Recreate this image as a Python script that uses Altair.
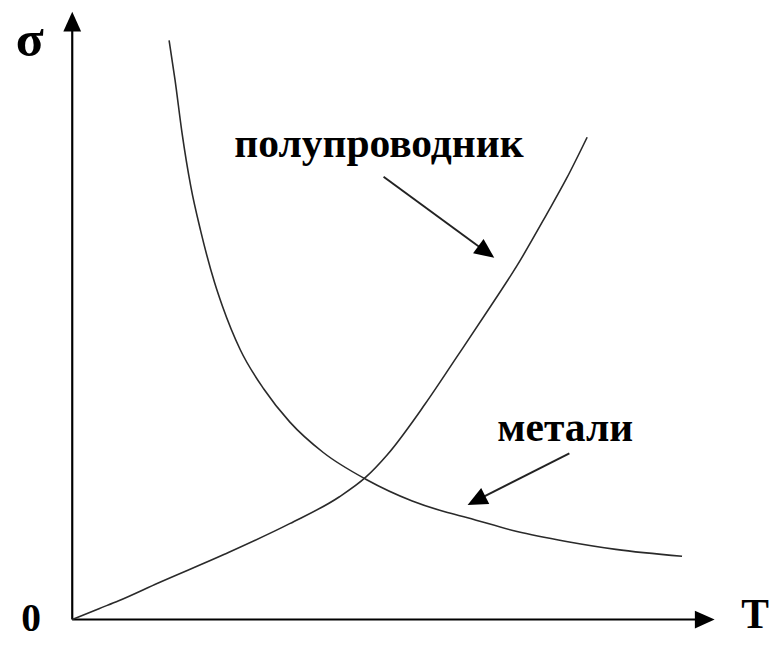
import math
import altair as alt
import pandas as pd

# Metal curve (conductivity decreasing with temperature), arbitrary units
metal_T = [98, 104, 111, 120, 130, 144, 152, 170, 194, 220, 254, 297, 344, 377, 400, 450, 500, 550, 617]
metal_s = [586, 546, 493, 438, 393, 341, 317, 273, 233, 200, 169, 142, 120, 109, 103, 89, 79, 71, 64]

# Semiconductor curve (conductivity increasing with temperature)
semi_T = [0, 27, 47, 87, 154, 220, 270, 297, 319, 357, 390, 424, 450, 480, 500, 521]
semi_s = [0, 11, 19, 37, 66, 97, 124, 144, 167, 218, 267, 318, 358, 410, 446, 488]

# Curve labels and their pointer arrows
labels = ["полупроводник", "метали"]
label_T = [164, 430]
label_s = [468, 181]
pointer_from_T = [315, 503]
pointer_from_s = [448, 168]
pointer_to_T = [427, 400]
pointer_to_s = [366, 116]

# Axis extents
axis_T_end = 650
axis_s_end = 615

W, H = 770, 629
xs = alt.Scale(domain=[-65, W - 65], nice=False, zero=False)
ys = alt.Scale(domain=[615 - H, 615], nice=False, zero=False)
X = lambda f: alt.X(f, type="quantitative", scale=xs, axis=None)
Y = lambda f: alt.Y(f, type="quantitative", scale=ys, axis=None)

rows = []
for i, (t, s) in enumerate(zip(metal_T, metal_s)):
    rows.append({"series": "metal", "T": t, "s": s, "i": i})
for i, (t, s) in enumerate(zip(semi_T, semi_s)):
    rows.append({"series": "semi", "T": t, "s": s, "i": i})
curves_df = pd.DataFrame(rows)

curves = alt.Chart(curves_df).mark_line(color="#2a2a2a", strokeWidth=1.6, interpolate="monotone").encode(
    x=X("T"), y=Y("s"), detail="series:N", order="i:Q"
)

HEAD = 10  # half-length of arrow head


def head(tx, ts, fx, fs):
    dx, dy = tx - fx, ts - fs
    L = math.hypot(dx, dy)
    ux, uy = dx / L, dy / L
    ang = math.degrees(math.atan2(-dy, dx)) % 360
    return {"T": tx - HEAD * ux, "s": ts - HEAD * uy, "ang": ang}


# axes as arrows: from origin to tip
ax_lines = pd.DataFrame([
    {"T": 0, "s": 0, "T2": 0, "s2": axis_s_end - 2 * HEAD + 2},
    {"T": 0, "s": 0, "T2": axis_T_end - 2 * HEAD + 2, "s2": 0},
])
axes = alt.Chart(ax_lines).mark_rule(color="black", strokeWidth=2.2).encode(
    x=X("T"), y=Y("s"), x2="T2:Q", y2="s2:Q"
)

ptr_rows = []
heads = [head(0, axis_s_end, 0, 0), head(axis_T_end, 0, 0, 0)]
for ft, fs, tt, ts in zip(pointer_from_T, pointer_from_s, pointer_to_T, pointer_to_s):
    h = head(tt, ts, ft, fs)
    heads.append(h)
    ptr_rows.append({"T": ft, "s": fs, "T2": h["T"], "s2": h["s"]})

pointers = alt.Chart(pd.DataFrame(ptr_rows)).mark_rule(color="#222", strokeWidth=2).encode(
    x=X("T"), y=Y("s"), x2="T2:Q", y2="s2:Q"
)

heads_chart = alt.Chart(pd.DataFrame(heads)).mark_point(
    shape="M1,0L-1,-0.9L-1,0.9Z", filled=True, color="black", opacity=1, size=400, strokeWidth=0
).encode(x=X("T"), y=Y("s"), angle=alt.Angle("ang:Q", scale=None))

text_df = pd.DataFrame({"label": labels, "T": label_T, "s": label_s})
texts = alt.Chart(text_df).mark_text(
    font="Liberation Serif", fontWeight="bold", fontSize=42, align="left", baseline="alphabetic", color="black"
).encode(x=X("T"), y=Y("s"), text="label:N")

sigma = alt.Chart(pd.DataFrame({"t": ["σ"], "T": [-43], "s": [570]})).mark_text(
    font="Liberation Serif", fontWeight="bold", fontSize=52, align="center", baseline="alphabetic", color="black"
).encode(x=X("T"), y=Y("s"), text="t:N")

zero = alt.Chart(pd.DataFrame({"t": ["0"], "T": [-41.5], "s": [-12]})).mark_text(
    font="Liberation Serif", fontWeight="bold", fontSize=40, align="center", baseline="alphabetic", color="black"
).encode(x=X("T"), y=Y("s"), text="t:N")

tlab = alt.Chart(pd.DataFrame({"t": ["T"], "T": [677], "s": [-9]})).mark_text(
    font="Liberation Serif", fontWeight="bold", fontSize=42, align="left", baseline="alphabetic", color="black"
).encode(x=X("T"), y=Y("s"), text="t:N")

chart = alt.layer(axes, curves, pointers, heads_chart, texts, sigma, zero, tlab).properties(
    width=W, height=H, padding=0
).configure_view(stroke=None)

chart.save("out.html", embed_options={"renderer": "svg", "actions": False})
